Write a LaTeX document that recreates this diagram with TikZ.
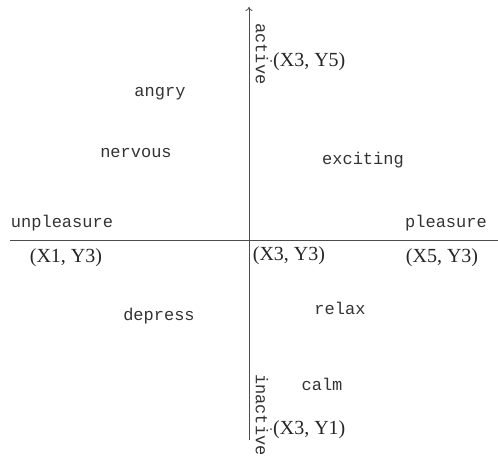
\documentclass[tikz,border=0pt]{standalone}
\usepackage{fontspec}
\usetikzlibrary{arrows.meta}
\setmainfont{Liberation Serif}
\newfontfamily\wordfont{Liberation Mono}
\begin{document}
\begin{tikzpicture}[x=1pt,y=-1pt,
  word/.style={font=\wordfont\fontsize{17}{17}\selectfont, text=black!80, inner sep=0pt},
  coordlabel/.style={font=\fontsize{20}{20}\selectfont, text=black!85, inner sep=0pt},
  axis/.style={draw=black!70, line width=0.8pt, -{To[length=4pt,width=7pt]}},
  pt/.style={circle, fill=black!70, inner sep=0pt, minimum size=2pt}]
\useasboundingbox (0,0) rectangle (498,460);
% axes
\coordinate (xl) at (10,240);
\coordinate (xr) at (502,240);
\coordinate (yb) at (249,440);
\coordinate (yt) at (249,7);
\draw[axis] (xl) -- (xr);
\draw[axis] (yb) -- (yt);
% axis words
\node[word] (unpl) at (62,223) {unpleasure};
\node[word] (pleas) at (446,223) {pleasure};
\node[word, rotate=-90] (active) at (262,54) {active};
\node[word, rotate=-90] (inactive) at (262,415) {inactive};
% emotions
\node[word] (angry) at (160,94) {angry};
\node[word] (nervous) at (136,153) {nervous};
\node[word] (exciting) at (363,160) {exciting};
\node[word] (depress) at (159,316) {depress};
\node[word] (relax) at (340,308) {relax};
\node[word] (calm) at (322,384) {calm};
% coordinates
\node[pt] (p5) at (271,61) {};
\node[pt] (p1) at (271,429) {};
\node[coordlabel, anchor=west] (c35) at (273,62) {(X3, Y5)};
\node[coordlabel, anchor=west] (c31) at (273,430) {(X3, Y1)};
\node[coordlabel] (c13) at (66,258) {(X1, Y3)};
\node[coordlabel] (c33) at (289,256) {(X3, Y3)};
\node[coordlabel] (c53) at (442,258) {(X5, Y3)};
\end{tikzpicture}
\end{document}
